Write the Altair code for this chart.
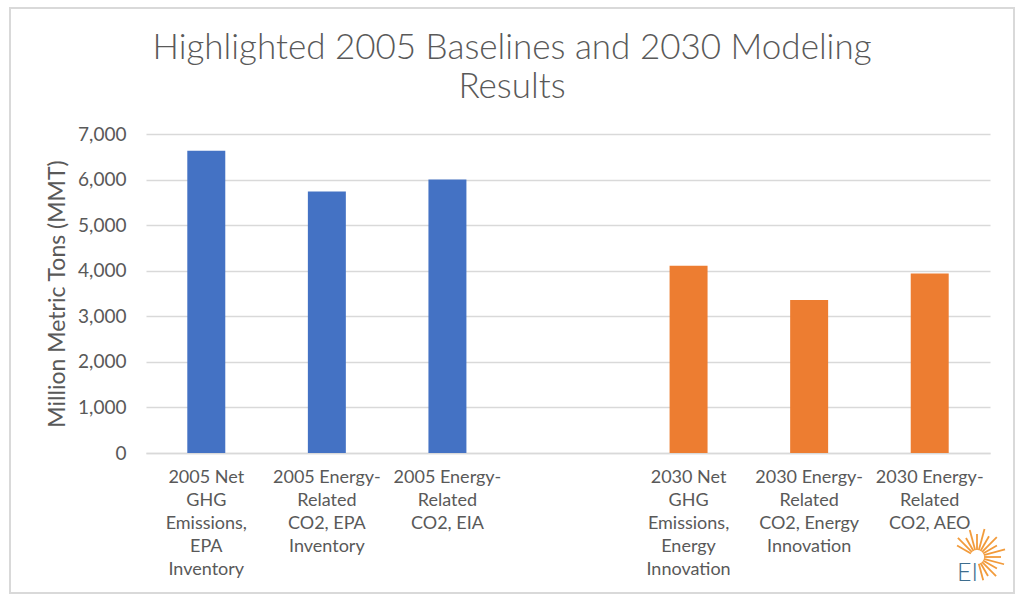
import altair as alt
import pandas as pd
import math

# ---- data ----
category_lines = [
    ["2005 Net", "GHG", "Emissions,", "EPA", "Inventory"],
    ["2005 Energy-", "Related", "CO2, EPA", "Inventory"],
    ["2005 Energy-", "Related", "CO2, EIA"],
    [" "],  # empty gap slot
    ["2030 Net", "GHG", "Emissions,", "Energy", "Innovation"],
    ["2030 Energy-", "Related", "CO2, Energy", "Innovation"],
    ["2030 Energy-", "Related", "CO2, AEO"],
]
values = [6635, 5740, 6000, None, 4110, 3360, 3940]
groups = ["2005", "2005", "2005", None, "2030", "2030", "2030"]
group_colors = ["#4472C4", "#ED7D31"]
y_ticks = [0, 1000, 2000, 3000, 4000, 5000, 6000, 7000]
title_lines = ["Highlighted 2005 Baselines and 2030 Modeling", "Results"]
y_title = "Million Metric Tons (MMT)"

# logo ray angles (deg, 0 = right, positive = down) and lengths
ray_angles = [-150, -135, -120, -105, -90, -75, -60, -45, -30, -15, 0, 15, 30, 45, 60, 75]
ray_lengths = [16, 20, 15, 21, 16, 22, 17, 21, 16, 22, 17, 21, 16, 20, 15, 17]

keys = ["|".join(l) for l in category_lines]
bars = pd.DataFrame({"cat": keys, "value": values, "group": groups}).dropna()

TXT = "#595959"
FONT = "Lato"

base = alt.Chart(bars)
bar_layer = base.mark_bar().encode(
    x=alt.X(
        "cat:N",
        sort=keys,
        scale=alt.Scale(domain=keys, paddingInner=0.685, paddingOuter=0.3425),
        axis=alt.Axis(
            title=None,
            labelExpr="split(datum.label, '|')",
            labelAngle=0,
            labelAlign="center",
            labelBaseline="top",
            labelPadding=15,
            labelLineHeight=23,
            labelFontSize=18,
            labelFont=FONT,
            labelColor=TXT,
            labelLimit=300,
            ticks=False,
            domain=True,
            domainColor="#D9D9D9",
            domainWidth=1.5,
            grid=False,
        ),
    ),
    y=alt.Y(
        "value:Q",
        scale=alt.Scale(domain=[0, 7000], nice=False),
        axis=alt.Axis(
            values=y_ticks,
            format=",.0f",
            title=y_title,
            titleFont=FONT,
            titleFontSize=23,
            titleFontWeight="normal",
            titleColor=TXT,
            titleAngle=-90,
            titleX=-89,
            titleY=159.5,
            titleAlign="center",
            titleBaseline="middle",
            labelFont=FONT,
            labelFontSize=19,
            labelColor=TXT,
            labelPadding=20,
            ticks=False,
            domain=False,
            grid=True,
            gridColor="#D9D9D9",
            gridWidth=1.5,
        ),
    ),
    color=alt.Color(
        "group:N",
        scale=alt.Scale(domain=["2005", "2030"], range=group_colors),
        legend=None,
    ),
)

border = alt.Chart(pd.DataFrame({"a": [0]})).mark_rect(
    fill="white", fillOpacity=0, stroke="#D9D9D9", strokeWidth=2
).encode(
    x=alt.value(-136), x2=alt.value(868), y=alt.value(-126), y2=alt.value(459)
)

# logo
cx, cy = 977 - 146, 557 - 134
rays = pd.DataFrame({
    "x1": [cx + 7 * math.cos(math.radians(a)) for a in ray_angles],
    "y1": [cy + 7 * math.sin(math.radians(a)) for a in ray_angles],
    "x2": [cx + (7 + l) * math.cos(math.radians(a)) for a, l in zip(ray_angles, ray_lengths)],
    "y2": [cy + (7 + l) * math.sin(math.radians(a)) for a, l in zip(ray_angles, ray_lengths)],
})
ray_layer = alt.Chart(rays).mark_rule(color="#F29B3B", strokeWidth=1.8).encode(
    x=alt.X("x1:Q", scale=None, axis=None),
    x2="x2:Q",
    y=alt.Y("y1:Q", scale=None, axis=None),
    y2="y2:Q",
)
ei_text = alt.Chart(pd.DataFrame({"t": ["EI"]})).mark_text(
    align="left", baseline="alphabetic", fontSize=25, font=FONT, fontWeight=300, color="#3D6D8E"
).encode(x=alt.value(957 - 146), y=alt.value(581 - 134), text="t:N")

chart = alt.layer(border, bar_layer, ray_layer, ei_text).resolve_scale(
    x="independent", y="independent"
).properties(
    width=844,
    height=319,
    autosize=alt.AutoSizeParams(type="none"),
    padding={"left": 146, "top": 134, "right": 34, "bottom": 149},
    background="white",
    title=alt.TitleParams(
        text=title_lines,
        font=FONT,
        fontSize=35,
        fontWeight=300,
        color=TXT,
        lineHeight=39,
        anchor="middle",
        baseline="alphabetic",
        dx=-56,
        dy=75,
        offset=-51,
    ),
).configure_view(stroke=None)

chart.save("out.html", embed_options={"renderer": "svg", "actions": False})
